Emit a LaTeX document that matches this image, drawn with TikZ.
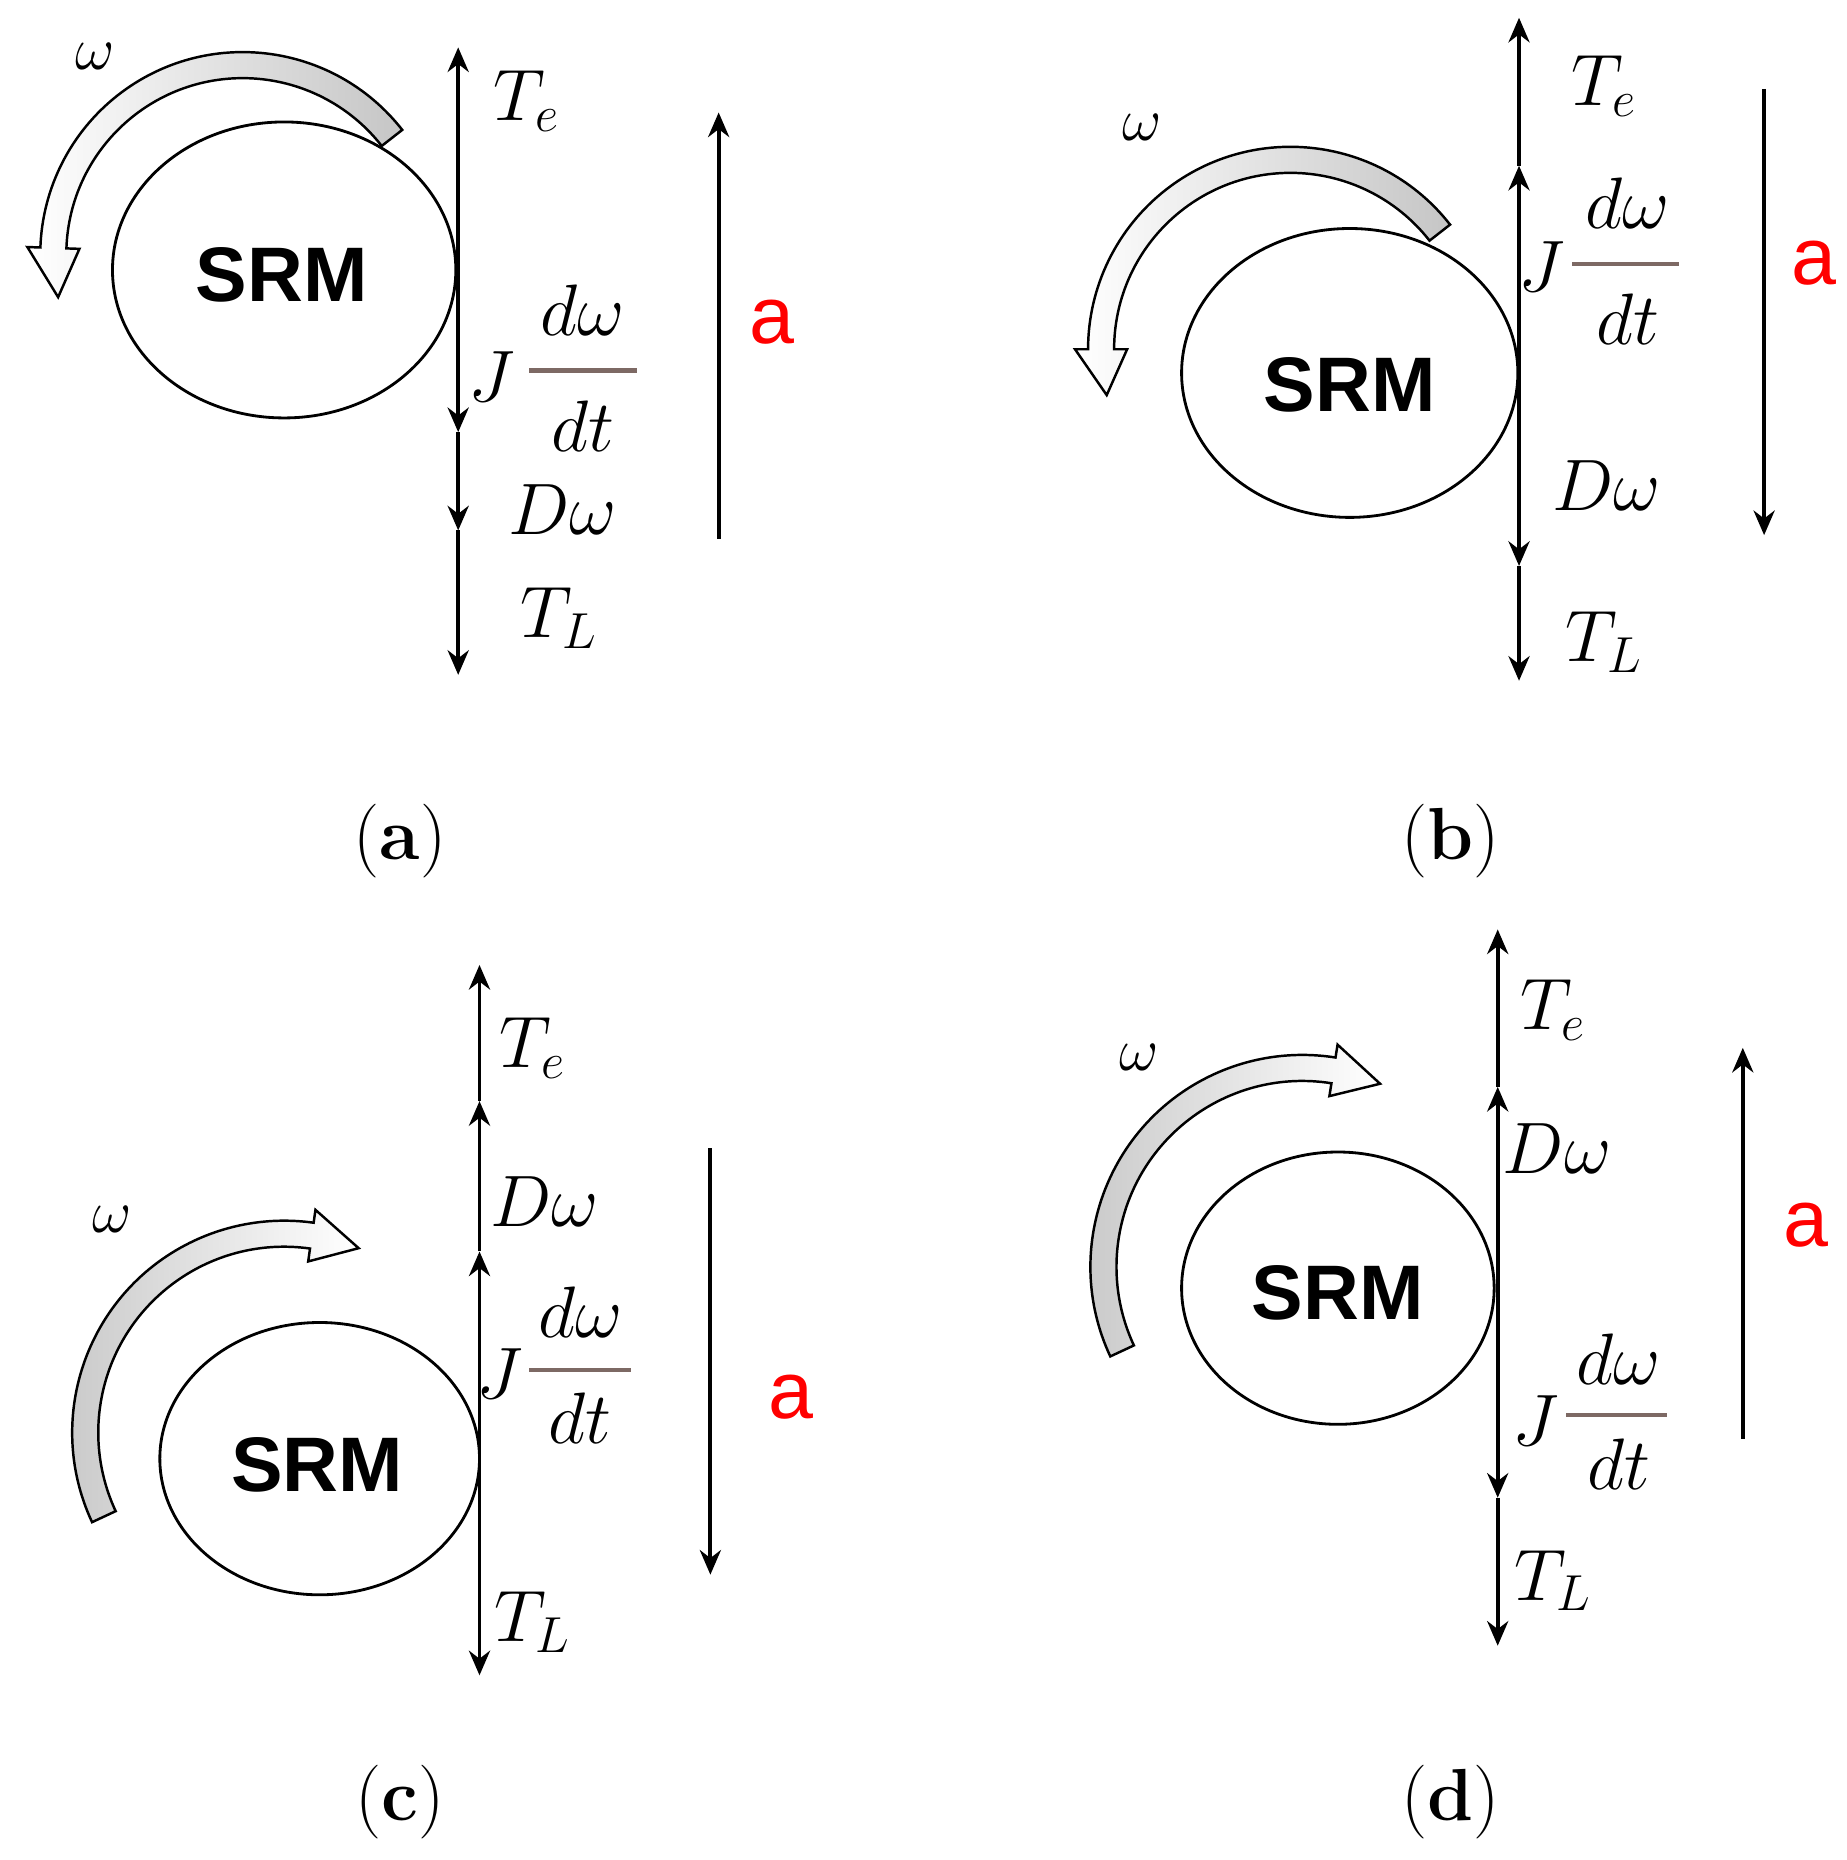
\documentclass[tikz,border=0pt]{standalone}
\usepackage{fontspec}
\setsansfont{Liberation Sans}
\usetikzlibrary{calc,arrows.meta}
\definecolor{barc}{RGB}{125,105,100}
\begin{document}
\begin{tikzpicture}[x=0.01184cm,y=0.01184cm,
  ax/.style={line width=1.1pt,-{Stealth[length=7pt,width=6pt]}},
  motor/.style={draw,line width=0.8pt},
  srm/.style={font=\sffamily\bfseries\fontsize{22}{26}\selectfont},
  lab/.style={font=\fontsize{22}{26}\selectfont},
  om/.style={font=\fontsize{18}{22}\selectfont},
  reda/.style={text=red,font=\sffamily\fontsize{23}{28}\selectfont},
  captxt/.style={font=\fontsize{21}{25}\selectfont},
  bar/.style={draw=barc,line width=1.2pt}]
\useasboundingbox (0,0) rectangle (1560,-1571);
\newcommand\carrow[7]{%
 \shadedraw[line width=0.7pt,#7] ($(#1)+(#3:#2+#5)$) arc[start angle=#3,end angle=#4,radius=#2+#5]
  -- ($(#1)+(#4:#2+#5+#5)$) -- ($(#1)+(#4+#6:#2)$) -- ($(#1)+(#4:#2-#5-#5)$) -- ($(#1)+(#4:#2-#5)$)
  arc[start angle=#4,end angle=#3,radius=#2-#5] -- cycle;}
% ---------- (a)
\coordinate (ca) at (205,-215);
\carrow{ca}{160}{38}{178}{11}{15}{left color=white,right color=gray!45}
\draw[motor] (240,-228) ellipse[x radius=145,y radius=125];
\node[srm] (sa) at (238,-232) {SRM};
\coordinate (a0) at (387,-225); \coordinate (a1) at (387,-40);
\coordinate (a2) at (387,-365); \coordinate (a3) at (387,-448); \coordinate (a4) at (387,-570);
\draw[ax] (a0)--(a1); \draw[ax] (a0)--(a2); \draw[ax] (a2)--(a3); \draw[ax] (a3)--(a4);
\node[lab] (ta) at (445,-85) {$T_e$};
\node[lab] (ja) at (415,-318) {$J$};
\node[lab] (na) at (492,-262) {$d\omega$};
\node[lab] (da) at (492,-360) {$dt$};
\draw[bar] (447,-313)--(538,-313);
\node[lab] (dwa) at (475,-430) {$D\omega$};
\node[lab] (tla) at (472,-522) {$T_L$};
\coordinate (ra0) at (607,-455); \coordinate (ra1) at (607,-95);
\draw[ax] (ra0)--(ra1);
\node[reda] (la) at (652,-272) {a};
\node[om] (oa) at (80,-48) {$\omega$};
\node[captxt] (capa) at (338,-710) {(\textbf{a})};
% ---------- (b)
\coordinate (cb) at (1090,-295);
\carrow{cb}{160}{38}{180}{11}{14}{left color=white,right color=gray!45}
\draw[motor] (1140,-315) ellipse[x radius=142,y radius=122];
\node[srm] (sb) at (1140,-325) {SRM};
\coordinate (b0) at (1283,-315); \coordinate (b1) at (1283,-140); \coordinate (b2) at (1283,-15);
\coordinate (b3) at (1283,-478); \coordinate (b4) at (1283,-575);
\draw[ax] (b0)--(b1); \draw[ax] (b1)--(b2); \draw[ax] (b0)--(b3); \draw[ax] (b3)--(b4);
\node[lab] (tb) at (1355,-73) {$T_e$};
\node[lab] (jb) at (1302,-225) {$J$};
\node[lab] (nb) at (1375,-172) {$d\omega$};
\node[lab] (db) at (1375,-270) {$dt$};
\draw[bar] (1328,-223)--(1418,-223);
\node[lab] (dwb) at (1357,-410) {$D\omega$};
\node[lab] (tlb) at (1355,-542) {$T_L$};
\coordinate (rb0) at (1490,-75); \coordinate (rb1) at (1490,-452);
\draw[ax] (rb0)--(rb1);
\node[reda] (lb) at (1532,-222) {a};
\node[om] (ob) at (965,-108) {$\omega$};
\node[captxt] (capb) at (1225,-710) {(\textbf{b})};
% ---------- (c)
\coordinate (cc) at (240,-1210);
\carrow{cc}{168}{205}{82}{11}{-14}{left color=gray!45,right color=white}
\draw[motor] (270,-1232) ellipse[x radius=135,y radius=115];
\node[srm] (sc) at (268,-1237) {SRM};
\coordinate (c0) at (405,-1232); \coordinate (c1) at (405,-1057); \coordinate (c2) at (405,-930);
\coordinate (c3) at (405,-815); \coordinate (c4) at (405,-1415);
\draw[ax] (c0)--(c1); \draw[ax] (c1)--(c2); \draw[ax] (c2)--(c3); \draw[ax] (c0)--(c4);
\node[lab] (tc) at (450,-885) {$T_e$};
\node[lab] (dwc) at (460,-1015) {$D\omega$};
\node[lab] (jc) at (422,-1160) {$J$};
\node[lab] (nc) at (490,-1108) {$d\omega$};
\node[lab] (dc) at (490,-1198) {$dt$};
\draw[bar] (447,-1157)--(533,-1157);
\node[lab] (tlc) at (450,-1370) {$T_L$};
\coordinate (rc0) at (600,-970); \coordinate (rc1) at (600,-1330);
\draw[ax] (rc0)--(rc1);
\node[reda] (lc) at (668,-1180) {a};
\node[om] (oc) at (95,-1030) {$\omega$};
\node[captxt] (capc) at (338,-1522) {(\textbf{c})};
% ---------- (d)
\coordinate (cd) at (1100,-1070);
\carrow{cd}{168}{205}{81}{11}{-14}{left color=gray!45,right color=white}
\draw[motor] (1130,-1088) ellipse[x radius=132,y radius=115];
\node[srm] (sd) at (1130,-1092) {SRM};
\coordinate (d0) at (1265,-1088); \coordinate (d1) at (1265,-918); \coordinate (d2) at (1265,-785);
\coordinate (d3) at (1265,-1265); \coordinate (d4) at (1265,-1390);
\draw[ax] (d0)--(d1); \draw[ax] (d1)--(d2); \draw[ax] (d0)--(d3); \draw[ax] (d3)--(d4);
\node[lab] (td) at (1312,-853) {$T_e$};
\node[lab] (dwd) at (1315,-970) {$D\omega$};
\node[lab] (jd) at (1297,-1200) {$J$};
\node[lab] (nd) at (1367,-1148) {$d\omega$};
\node[lab] (dd) at (1367,-1237) {$dt$};
\draw[bar] (1323,-1195)--(1408,-1195);
\node[lab] (tld) at (1312,-1335) {$T_L$};
\coordinate (rd0) at (1472,-1215); \coordinate (rd1) at (1472,-885);
\draw[ax] (rd0)--(rd1);
\node[reda] (ld) at (1525,-1035) {a};
\node[om] (od) at (962,-893) {$\omega$};
\node[captxt] (capd) at (1225,-1522) {(\textbf{d})};
\end{tikzpicture}
\end{document}
